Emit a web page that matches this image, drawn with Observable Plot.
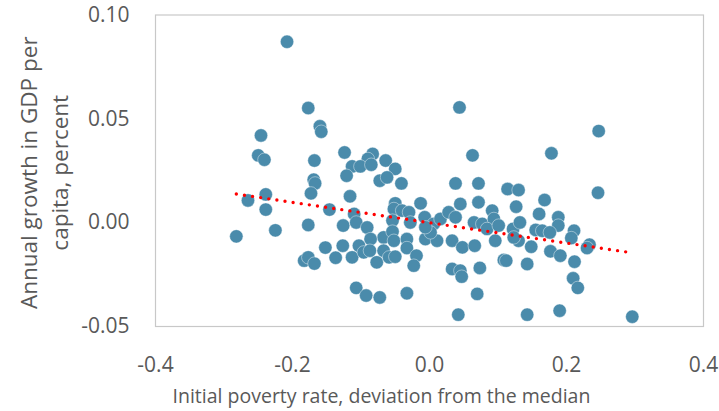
<!DOCTYPE html>
<html>
<head>
<meta charset="utf-8">
<script src="https://cdn.jsdelivr.net/npm/d3@7"></script>
<script src="https://cdn.jsdelivr.net/npm/@observablehq/plot@0.6"></script>
<style>
  html, body { margin: 0; padding: 0; background: #ffffff; }
  #chart svg { display: block; }
</style>
</head>
<body>
<div id="chart"></div>
<script>
// Initial poverty rate (deviation from the median)
const povertyDev = [
  -0.208, -0.177, -0.160, -0.158, -0.246, -0.250, -0.241, -0.168, -0.124, -0.169,
  -0.167, -0.173, -0.239, -0.265, -0.239, -0.146, -0.177, -0.225, -0.282, -0.126,
  -0.152, -0.137, -0.183, -0.177, -0.168, 0.0438, 0.0628, -0.083, -0.090, -0.064,
  -0.050, -0.113, -0.101, -0.085, -0.121, -0.0726, -0.062, -0.041, 0.038, 0.0715,
  0.114, 0.130, -0.116, -0.013, 0.045, 0.0715, 0.1265, -0.050, -0.052, -0.040,
  -0.030, -0.028, -0.054, -0.110, -0.107, -0.091, -0.067, -0.086, -0.054, -0.052,
  -0.033, -0.033, -0.007, 0.006, -0.006, 0.011, 0.0015, 0.016, 0.028, 0.038,
  0.033, 0.048, 0.066, 0.065, 0.077, 0.0915, 0.094, 0.084, 0.096, 0.101,
  0.122, 0.132, 0.130, -0.1266, -0.103, -0.113, -0.096, -0.087, -0.077, -0.067,
  -0.059, -0.050, -0.019, -0.023, 0.033, 0.045, 0.047, 0.0735, 0.1085, 0.112,
  0.1426, -0.107, -0.0925, -0.0726, -0.033, 0.0696, 0.042, 0.1426, 0.247, 0.178,
  0.246, 0.168, 0.160, 0.188, 0.188, 0.155, 0.1645, 0.1757, 0.211, 0.207,
  0.2336, 0.230, 0.1485, 0.1766, 0.191, 0.2117, 0.2097, 0.2165, 0.190, 0.296,
  -0.006, 0.123
];
// Annual growth in GDP per capita
const gdpGrowth = [
  0.0871, 0.0552, 0.0464, 0.0438, 0.0420, 0.0324, 0.0303, 0.0299, 0.0338, 0.0207,
  0.0189, 0.0141, 0.0136, 0.0107, 0.0063, 0.0063, -0.0011, -0.0037, -0.0066, -0.0014,
  -0.0120, -0.0169, -0.0183, -0.0167, -0.0197, 0.0555, 0.0324, 0.0331, 0.0307, 0.0299,
  0.0259, 0.0271, 0.0271, 0.0279, 0.0226, 0.0202, 0.0218, 0.0189, 0.0189, 0.0189,
  0.0162, 0.0157, 0.0127, 0.0093, 0.0090, 0.0098, 0.0077, 0.0093, 0.0066, 0.0058,
  0.0050, 0.0001, 0.0010, 0.0042, 0.0001, -0.0023, -0.0071, -0.0079, -0.0043, -0.0087,
  -0.0079, -0.0122, 0.0026, -0.0006, -0.0079, -0.0087, -0.0047, 0.0018, 0.0050, 0.0026,
  -0.0087, -0.0119, -0.0111, 0.0001, -0.0006, 0.0058, 0.0018, -0.0030, -0.0087, -0.0014,
  -0.0030, 0.0001, -0.0087, -0.0111, -0.0111, -0.0167, -0.0143, -0.0135, -0.0191, -0.0135,
  -0.0167, -0.0164, -0.0159, -0.0207, -0.0223, -0.0231, -0.0260, -0.0218, -0.0180, -0.0183,
  -0.0199, -0.0314, -0.0351, -0.0360, -0.0340, -0.0343, -0.0443, -0.0443, 0.0441, 0.0334,
  0.0144, 0.0109, 0.0042, 0.0026, -0.0014, -0.0035, -0.0039, -0.0047, -0.0039, -0.0074,
  -0.0106, -0.0122, -0.0116, -0.0138, -0.0159, -0.0188, -0.0268, -0.0314, -0.0424, -0.0453,
  -0.0022, -0.0071
];
// Linear trend (endpoints)
const trendX = [-0.282, 0.2915];
const trendY = [0.0138, -0.0143];

const xTicks = [-0.4, -0.2, 0.0, 0.2, 0.4];
const yTicks = [-0.05, 0.00, 0.05, 0.10];
const xTitle = "Initial poverty rate, deviation from the median";
const yTitle = "Annual growth in GDP per\ncapita, percent";

const points = povertyDev.map((x, i) => ({x, y: gdpGrowth[i]}));
const trend = trendX.map((x, i) => ({x, y: trendY[i]}));

const FONT = "'Segoe UI', 'Open Sans', sans-serif";
const TXT = "#595959";

const chart = Plot.plot({
  width: 719,
  height: 411,
  marginTop: 14.5,
  marginRight: 16,
  marginBottom: 85,
  marginLeft: 155,
  style: {fontFamily: FONT, fontSize: "20px", color: TXT, background: "#ffffff", overflow: "visible"},
  x: {domain: [-0.4, 0.4]},
  y: {domain: [-0.05, 0.10]},
  marks: [
    Plot.frame({stroke: "#c8c8c8", strokeWidth: 1.2}),
    Plot.axisX({ticks: xTicks, tickSize: 0, tickPadding: 31, tickFormat: d => d.toFixed(1), label: null, fill: TXT, fontSize: 21}),
    Plot.axisY({ticks: yTicks, tickSize: 0, tickPadding: 26, tickFormat: d => d.toFixed(2), label: null, fill: TXT, fontSize: 21}),
    Plot.text([xTitle], {text: d => d, frameAnchor: "bottom-left", textAnchor: "start", lineAnchor: "middle", dx: 17, dy: 70, fill: TXT, fontSize: 19.5}),
    Plot.text([yTitle], {text: d => d, frameAnchor: "left", textAnchor: "middle", rotate: -90, lineAnchor: "middle", lineHeight: 1.38, dx: -112.5, dy: 2, fill: TXT, fontSize: 22.5}),
    Plot.dot(points, {x: "x", y: "y", r: 6.7, fill: "#4a8bab", stroke: "#ffffff", strokeWidth: 0.6, strokeOpacity: 0.7}),
    Plot.line(trend, {x: "x", y: "y", stroke: "#ff0000", strokeWidth: 3.4, strokeDasharray: "0 8.2", strokeLinecap: "round"})
  ]
});
document.getElementById("chart").appendChild(chart);
</script>
</body>
</html>
